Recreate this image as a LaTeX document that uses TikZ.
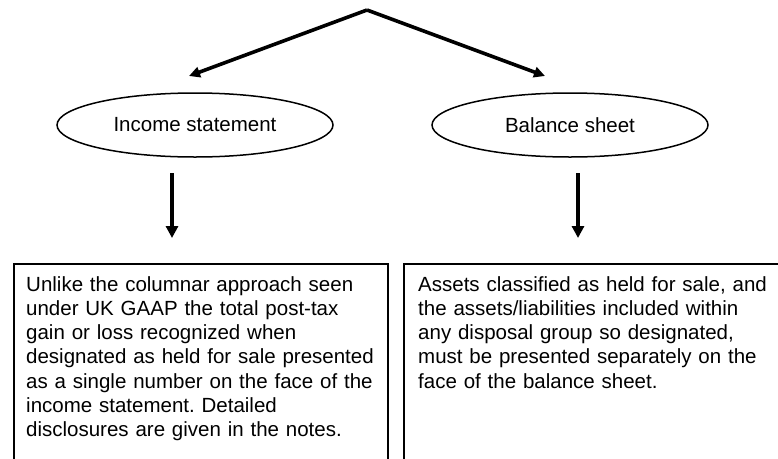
\documentclass[tikz,border=0pt]{standalone}
\usepackage{fontspec}
\setmainfont{Liberation Sans}
\usetikzlibrary{arrows.meta,shapes.geometric}
\begin{document}
\frenchspacing
\begin{tikzpicture}[x=1pt,y=-1pt,
  bigarrow/.style={line width=3.6pt,-{Triangle[length=11pt,width=10.5pt]}},
  downarrow/.style={line width=3.2pt,-{Triangle[length=12pt,width=12pt]}},
  oval/.style={ellipse,draw,line width=1.5pt,minimum width=276pt,minimum height=64pt,inner sep=0pt,
    font=\fontsize{20.5}{24}\selectfont},
  panel/.style={draw,line width=1.3pt},
  bodytext/.style={anchor=north west,inner sep=0pt,align=left,text width=370pt,
    font=\fontsize{20.5}{24.3}\selectfont}]
  \clip (0,0) rectangle (778,458);

  % top split
  \coordinate (apex) at (367,10);
  \coordinate (tipL) at (189,76);
  \coordinate (tipR) at (545,76);
  \draw[bigarrow] (apex) -- (tipL);
  \draw[bigarrow] (apex) -- (tipR);

  % statements
  \node[oval] (income) at (195,125) {Income statement};
  \node[oval] (balance) at (570,125) {Balance sheet};

  % down arrows
  \coordinate (dLa) at (172,173);
  \coordinate (dLb) at (172,238);
  \coordinate (dRa) at (578,173);
  \coordinate (dRb) at (578,238);
  \draw[downarrow] (dLa) -- (dLb);
  \draw[downarrow] (dRa) -- (dRb);

  % text panels, open at the bottom edge
  \draw[panel] (14,480) -- (14,264) -- (388,264) -- (388,480);
  \draw[panel] (404,480) -- (404,264) -- (800,264);

  \node[bodytext] (lefttext) at (26,276) {Unlike the columnar approach seen\\
    under UK GAAP the total post-tax\\
    gain or loss recognized when\\
    designated as held for sale presented\\
    as a single number on the face of the\\
    income statement. Detailed\\
    disclosures are given in the notes.};
  \node[bodytext] (righttext) at (418,276) {Assets classified as held for sale, and\\
    the assets/liabilities included within\\
    any disposal group so designated,\\
    must be presented separately on the\\
    face of the balance sheet.};
\end{tikzpicture}
\end{document}
